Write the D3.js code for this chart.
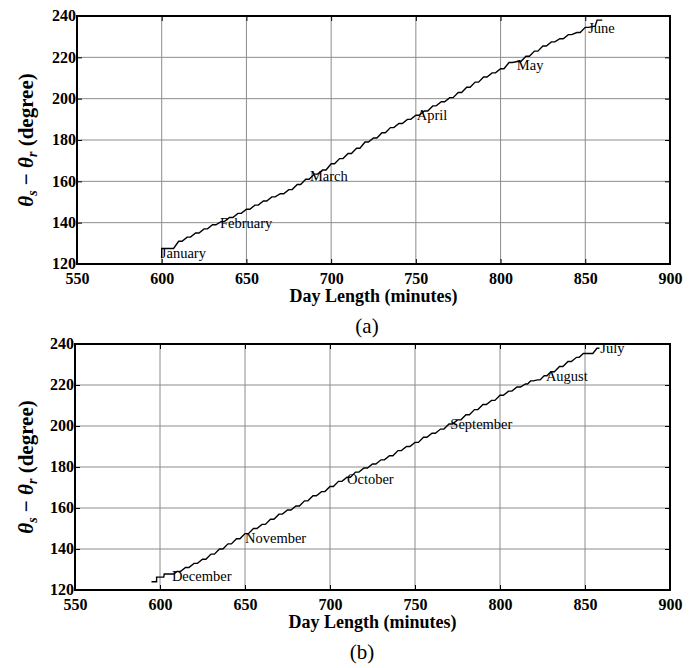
<!DOCTYPE html>
<html>
<head>
<meta charset="utf-8">
<script src="https://cdn.jsdelivr.net/npm/d3@7"></script>
<style>
  body { margin: 0; background: #fff; }
  svg text { font-family: "Liberation Serif", "Times New Roman", Tinos, serif; }
</style>
</head>
<body>
<script>
// axis ticks
const xTicks = [550, 600, 650, 700, 750, 800, 850, 900];
const yTicks = [120, 140, 160, 180, 200, 220, 240];

// panel (a): January -> June
const dayLengthA = [600, 600, 605, 610, 615, 620, 625, 630, 635, 640, 645, 650, 655, 660, 665, 670, 675, 680,
  685, 690, 695, 700, 705, 710, 715, 720, 725, 730, 735, 740, 745, 750, 755, 760, 765, 770, 775, 780,
  785, 790, 795, 800, 805, 810, 815, 820, 825, 830, 835, 840, 845, 850, 855, 857, 860];
const angleA = [123, 127.5, 127.5, 131, 133, 135, 137, 139, 140.5, 142.5, 144.5, 146.5, 148.5, 150.5, 152.5, 154, 156, 158.5,
  161, 163.5, 165.5, 168.5, 171, 173.5, 176, 179, 181, 183.5, 186, 188, 190, 192, 194, 196.5, 198.5, 200.5, 203, 205.5,
  208, 210.5, 212.5, 214.5, 217.5, 218, 220.5, 223, 225.5, 227.5, 229, 231, 232, 234.5, 235, 238, 238];
const monthsA = ["January", "February", "March", "April", "May", "June"];
const monthXA = [599.5, 634.4, 687.5, 750.5, 809.6, 851.7];
const monthYA = [122.8, 137.3, 160, 189.7, 214, 231.8];

// panel (b): July -> December
const dayLengthB = [595, 598, 598, 602, 602.5, 607, 610, 615, 620, 625, 630, 635, 640, 645, 650, 655, 660, 665, 670,
  675, 680, 685, 690, 695, 700, 705, 710, 715, 720, 725, 730, 735, 740, 745, 750, 755, 760, 765, 770, 775,
  780, 785, 790, 795, 800, 805, 810, 815, 818, 822, 826, 830, 835, 840, 845, 849, 853, 857, 858.5];
const angleB = [124, 124, 126.3, 126.3, 127.8, 127.8, 129, 131, 133, 135, 137.5, 140, 142.5, 145, 147.5, 150, 152, 154.5, 157,
  159, 161, 163.5, 166, 168, 170.5, 173, 175, 177.5, 179.5, 181.5, 183.5, 185.5, 188, 190, 192, 194.5, 196.5, 198.5, 201, 203,
  205.5, 208, 210.5, 212.5, 215, 217, 219, 220.5, 222, 222.5, 224.5, 226.5, 229, 231.5, 233.5, 235.4, 235.4, 237.9, 237.9];
const monthsB = ["July", "August", "September", "October", "November", "December"];
const monthXB = [859, 827, 770.8, 710, 650, 607];
const monthYB = [235.6, 222, 198.5, 171.7, 143, 124.6];

const W = 697, H = 668;
const FONT = '"Liberation Serif", "Times New Roman", Tinos, serif';
const svg = d3.select("body").append("svg")
  .attr("width", W)
  .attr("height", H);

function drawPanel(cfg) {
  const x = d3.scaleLinear().domain([550, 900]).range([cfg.left, cfg.right]);
  const y = d3.scaleLinear().domain([120, 240]).range([cfg.bottom, cfg.top]);
  const g = svg.append("g");

  // grid
  g.append("g").selectAll("line")
    .data(xTicks.slice(1, -1))
    .enter().append("line")
      .attr("x1", d => x(d)).attr("x2", d => x(d))
      .attr("y1", cfg.top).attr("y2", cfg.bottom)
      .attr("stroke", "#8c8c8c").attr("stroke-width", 1);
  g.append("g").selectAll("line")
    .data(yTicks.slice(1, -1))
    .enter().append("line")
      .attr("x1", cfg.left).attr("x2", cfg.right)
      .attr("y1", d => y(d)).attr("y2", d => y(d))
      .attr("stroke", "#8c8c8c").attr("stroke-width", 1);

  // inward ticks on all four sides
  const tk = 5;
  const axB = d3.axisBottom(x).tickValues(xTicks).tickSizeInner(-tk).tickSizeOuter(0).tickFormat(d3.format("d"));
  const axT = d3.axisTop(x).tickValues(xTicks).tickSizeInner(-tk).tickSizeOuter(0).tickFormat("");
  const axL = d3.axisLeft(y).tickValues(yTicks).tickSizeInner(-tk).tickSizeOuter(0).tickFormat(d3.format("d"));
  const axR = d3.axisRight(y).tickValues(yTicks).tickSizeInner(-tk).tickSizeOuter(0).tickFormat("");

  const gb = g.append("g").attr("transform", "translate(0," + cfg.bottom + ")").call(axB);
  g.append("g").attr("transform", "translate(0," + cfg.top + ")").call(axT);
  const gl = g.append("g").attr("transform", "translate(" + cfg.left + ",0)").call(axL);
  g.append("g").attr("transform", "translate(" + cfg.right + ",0)").call(axR);
  g.selectAll(".domain").remove();
  g.selectAll(".tick line").attr("stroke", "#000");

  gb.selectAll(".tick text")
    .attr("y", 20).attr("dy", 0)
    .style("font-family", FONT)
    .style("font-size", "16px").style("font-weight", "bold")
    .attr("fill", "#000");
  gl.selectAll(".tick text")
    .attr("x", -1).attr("dy", "0.3em")
    .style("font-family", FONT)
    .style("font-size", "16px").style("font-weight", "bold")
    .attr("fill", "#000");

  // the curve, drawn as small steps: a short flat then the rise
  const pts = [];
  cfg.xs.forEach((d, i) => {
    pts.push([x(d), y(cfg.ys[i])]);
    if (i < cfg.xs.length - 1) {
      pts.push([x(d + 0.4 * (cfg.xs[i + 1] - d)), y(cfg.ys[i])]);
    }
  });
  g.append("path")
    .attr("d", d3.line()(pts))
    .attr("fill", "none")
    .attr("stroke", "#000")
    .attr("stroke-width", 1.4);

  // month labels
  g.append("g").selectAll("text")
    .data(cfg.months)
    .enter().append("text")
      .attr("x", (d, i) => x(cfg.mx[i]))
      .attr("y", (d, i) => y(cfg.my[i]))
      .style("font-family", FONT)
      .style("font-size", "14.5px")
      .attr("fill", "#000")
      .text(d => d);

  // frame
  g.append("rect")
    .attr("x", cfg.left).attr("y", cfg.top)
    .attr("width", cfg.right - cfg.left).attr("height", cfg.bottom - cfg.top)
    .attr("fill", "none").attr("stroke", "#000").attr("stroke-width", 2);

  // axis titles
  g.append("text")
    .attr("x", (cfg.left + cfg.right) / 2)
    .attr("y", cfg.bottom + 38)
    .attr("text-anchor", "middle")
    .style("font-family", FONT)
    .style("font-size", "18px").style("font-weight", "bold")
    .text("Day Length (minutes)");

  const yt = g.append("text")
    .attr("transform", "translate(33," + ((cfg.top + cfg.bottom) / 2) + ") rotate(-90)")
    .attr("text-anchor", "middle")
    .style("font-family", FONT)
    .style("font-size", "21px").style("font-weight", "bold");
  yt.append("tspan").style("font-style", "italic").text("\u03b8");
  yt.append("tspan").style("font-style", "italic").style("font-size", "14px").attr("dy", 4).text("s");
  yt.append("tspan").attr("dy", -4).text(" \u2212 ");
  yt.append("tspan").style("font-style", "italic").text("\u03b8");
  yt.append("tspan").style("font-style", "italic").style("font-size", "14px").attr("dy", 4).text("r");
  yt.append("tspan").attr("dy", -4).text(" (degree)");

  // panel caption
  g.append("text")
    .attr("x", cfg.capX)
    .attr("y", cfg.bottom + 69)
    .attr("text-anchor", "middle")
    .style("font-family", FONT)
    .style("font-size", "21px")
    .text(cfg.caption);
}

drawPanel({ left: 77, right: 670, top: 16, bottom: 264, xs: dayLengthA, ys: angleA,
  months: monthsA, mx: monthXA, my: monthYA, caption: "(a)", capX: 367 });
drawPanel({ left: 75, right: 670, top: 344, bottom: 590, xs: dayLengthB, ys: angleB,
  months: monthsB, mx: monthXB, my: monthYB, caption: "(b)", capX: 362 });
</script>
</body>
</html>
